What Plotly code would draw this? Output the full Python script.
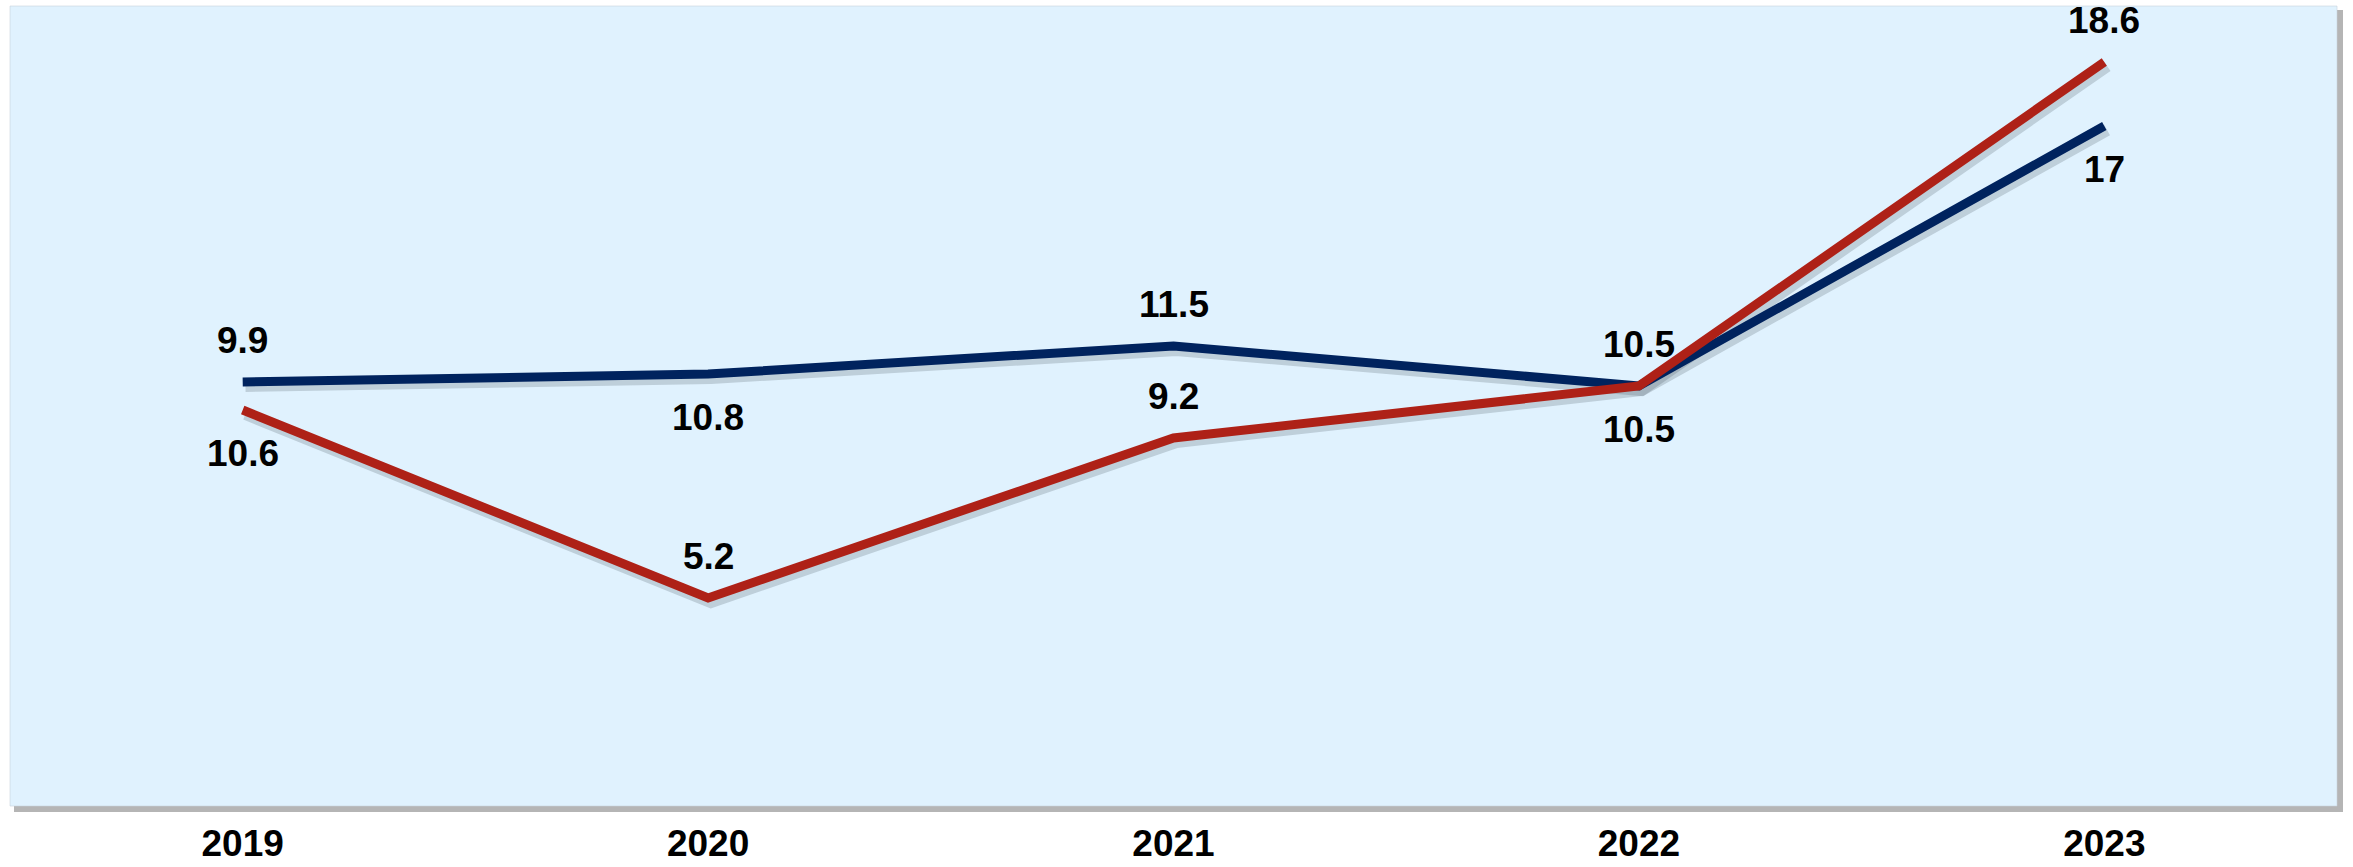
import plotly.graph_objects as go

years = ["2019", "2020", "2021", "2022", "2023"]
navy_values = [10.6, 10.8, 11.5, 10.5, 17.0]
red_values = [9.9, 5.2, 9.2, 10.5, 18.6]
navy_labels = ["9.9", "10.8", "11.5", "10.5", "17"]
red_labels = ["10.6", "5.2", "9.2", "10.5", "18.6"]
navy_label_side = ["above", "below", "above", "above", "below"]
red_label_side = ["below", "above", "above", "below", "above"]

NAVY = "#00235E"
RED = "#AE2117"
BG = "#E0F2FE"
xs = list(range(len(years)))

fig = go.Figure()

# soft drop shadows under the lines
for vals in (navy_values, red_values):
    fig.add_trace(go.Scatter(
        x=[v + 0.006 for v in xs], y=[v - 0.1 for v in vals], mode="lines",
        line=dict(color="rgba(70,80,90,0.22)", width=12),
        hoverinfo="skip", showlegend=False))

fig.add_trace(go.Scatter(x=xs, y=navy_values, mode="lines",
                         line=dict(color=NAVY, width=9), name="navy", showlegend=False))
fig.add_trace(go.Scatter(x=xs, y=red_values, mode="lines",
                         line=dict(color=RED, width=9), name="red", showlegend=False))

label_font = dict(family="Liberation Sans, Arial, sans-serif", size=37, color="#000000")
for vals, labels, sides in ((navy_values, navy_labels, navy_label_side),
                            (red_values, red_labels, red_label_side)):
    for x, v, t, s in zip(xs, vals, labels, sides):
        fig.add_annotation(x=x, y=v, text=f"<b>{t}</b>", showarrow=False,
                           yshift=42 if s == "above" else -43,
                           font=label_font, xanchor="center", yanchor="middle")

W, H = 2353, 867
ml, mr, mt, mb = 10, 16, 6, 61
pw, ph = W - ml - mr, H - mt - mb
# plot area shadow + background
fig.add_shape(type="rect", xref="paper", yref="paper",
              x0=4 / pw, x1=1 + 6 / pw, y0=-6 / ph, y1=1 - 4 / ph,
              fillcolor="rgba(120,120,120,0.55)", line=dict(width=0), layer="below")
fig.add_shape(type="rect", xref="paper", yref="paper",
              x0=0, x1=1, y0=0, y1=1,
              fillcolor=BG, line=dict(color="rgba(200,210,220,0.6)", width=1), layer="below")

fig.update_layout(
    width=W, height=H,
    margin=dict(l=ml, r=mr, t=mt, b=mb, autoexpand=False),
    paper_bgcolor="white", plot_bgcolor="rgba(0,0,0,0)",
    xaxis=dict(range=[-0.5, 4.5], tickvals=xs, ticktext=[f"<b>{y}</b>" for y in years],
               showgrid=False, zeroline=False, showline=False, ticks="",
               ticklabelstandoff=12, automargin=False,
               tickfont=dict(family="Liberation Sans, Arial, sans-serif",
                             size=37, color="#000000")),
    yaxis=dict(range=[0, 20], showgrid=False, zeroline=False, showline=False,
               showticklabels=False, ticks="", automargin=False),
)

fig.write_html("out.html")
